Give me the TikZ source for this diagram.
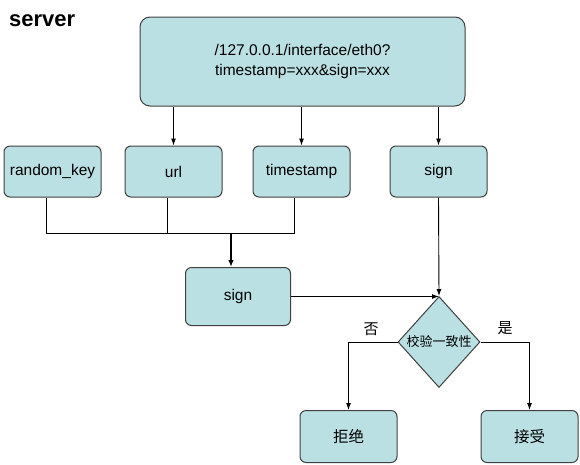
\documentclass[tikz,border=0pt]{standalone}
\usepackage{fontspec}
\setmainfont{Liberation Sans}
\newfontfamily\cjk{Noto Sans CJK SC}
\usetikzlibrary{shapes.geometric,arrows.meta}
\definecolor{boxfill}{RGB}{187,224,227}
\definecolor{boxline}{RGB}{64,64,64}
\tikzset{
  box/.style={draw=boxline, fill=boxfill, rounded corners=6pt, line width=1pt, inner sep=0pt, font=\fontsize{15.5}{19}\selectfont, align=center},
  dec/.style={draw=boxline, fill=boxfill, shape=diamond, line width=1pt, inner sep=0pt},
  arr/.style={draw=black, line width=0.9pt, -{Latex[length=7pt,width=5pt]}},
  ln/.style={draw=black, line width=0.9pt},
  lbl/.style={font=\cjk\fontsize{15}{18}\selectfont, inner sep=0pt}
}
\begin{document}
\begin{tikzpicture}[x=1pt,y=-1pt]
\useasboundingbox (0,0) rectangle (580,464);
\node[anchor=west, font=\bfseries\fontsize{22}{26}\selectfont, inner sep=0pt] (title) at (9,21) {server};
\node[box, minimum width=325pt, minimum height=89pt, rounded corners=10pt] (top) at (302.5,61.5) {/127.0.0.1/interface/eth0?\\[1pt]timestamp=xxx\&sign=xxx};
\node[box, minimum width=97pt, minimum height=51pt] (rk) at (52.5,171.5) {random\_key};
\node[box, minimum width=97pt, minimum height=51pt] (url) at (173.5,171.5) {url};
\node[box, minimum width=97pt, minimum height=51pt] (ts) at (301.5,171.5) {timestamp};
\node[box, minimum width=97pt, minimum height=51pt] (sg) at (438.5,171.5) {sign};
\node[box, minimum width=105pt, minimum height=58pt] (ms) at (238,296.5) {sign};
\node[dec, minimum width=82pt, minimum height=91pt] (d) at (439,342) {\makebox[0pt]{\cjk\fontsize{13}{15}\selectfont 校验一致性}};
\node[box, minimum width=97pt, minimum height=52pt] (rej) at (348.5,436.5) {\cjk 拒绝};
\node[box, minimum width=97pt, minimum height=52pt] (acc) at (529.5,436.5) {\cjk 接受};
\node[lbl] (no) at (371,329) {否};
\node[lbl] (yes) at (505,328) {是};
\coordinate (j) at (231,233);
% top arrows
\draw[arr] (top.south -| url.north) -- (url.north);
\draw[arr] (top.south -| ts.north) -- (ts.north);
\draw[arr] (top.south -| sg.north) -- (sg.north);
% merge lines
\draw[ln] ([xshift=-6pt]rk.south) |- ([xshift=-7pt]ts.south |- j) -- ([xshift=-7pt]ts.south);
\draw[ln] ([xshift=-6pt]url.south) -- ([xshift=-6pt]url.south |- j);
\draw[draw=black, line width=1.8pt, -{Latex[length=7pt,width=5.5pt]}] (j) -- (j |- ms.north);
% to decision
\draw[arr] (sg.south) -- (d.north);
\draw[arr] (ms.east) -- (ms.east -| d.north);
% branches
\draw[arr] (d.west) -| (rej.north);
\draw[arr] (d.east) -| (acc.north);
\end{tikzpicture}
\end{document}
